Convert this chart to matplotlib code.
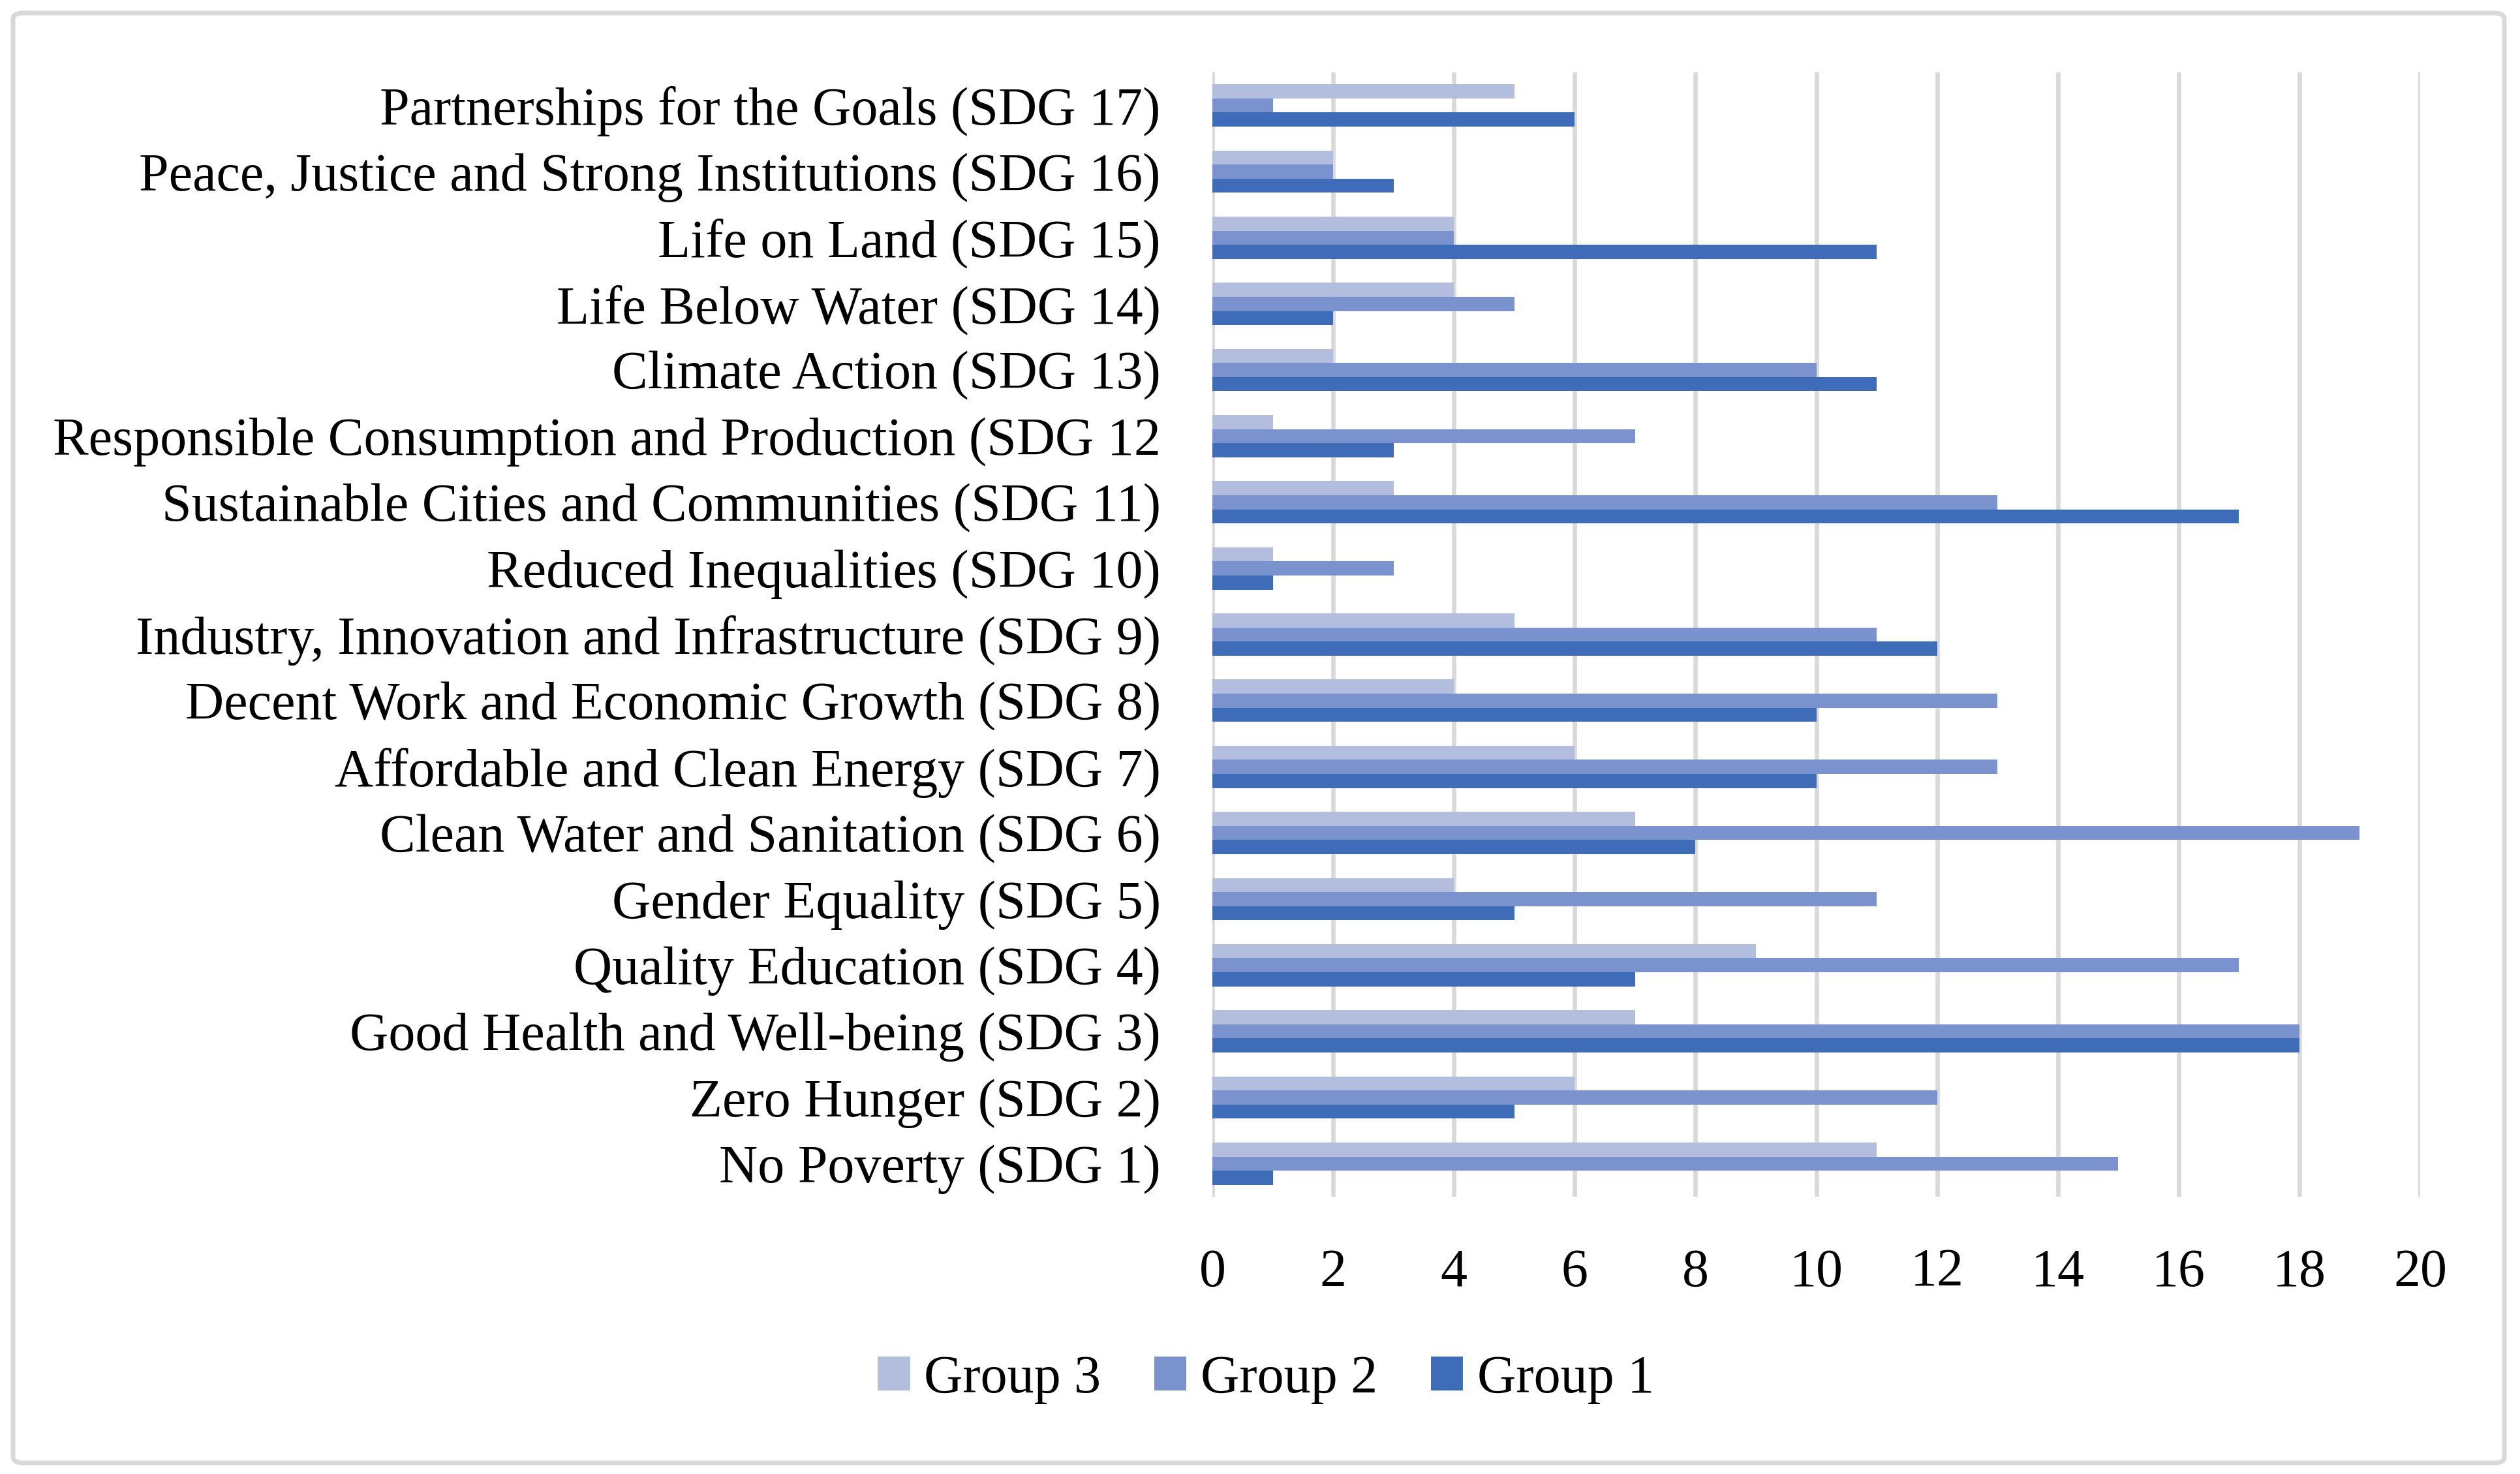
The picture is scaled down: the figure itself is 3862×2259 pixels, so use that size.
import numpy as np
import matplotlib
matplotlib.use("Agg")
import matplotlib.pyplot as plt
from matplotlib.patches import FancyBboxPatch

plt.rcParams['font.family'] = ['Liberation Serif', 'DejaVu Serif']

# categories from bottom (SDG 1) to top (SDG 17)
labels = [
    "No Poverty (SDG 1)",
    "Zero Hunger (SDG 2)",
    "Good Health and Well-being (SDG 3)",
    "Quality Education (SDG 4)",
    "Gender Equality (SDG 5)",
    "Clean Water and Sanitation (SDG 6)",
    "Affordable and Clean Energy (SDG 7)",
    "Decent Work and Economic Growth (SDG 8)",
    "Industry, Innovation and Infrastructure (SDG 9)",
    "Reduced Inequalities (SDG 10)",
    "Sustainable Cities and Communities (SDG 11)",
    "Responsible Consumption and Production (SDG 12",
    "Climate Action (SDG 13)",
    "Life Below Water (SDG 14)",
    "Life on Land (SDG 15)",
    "Peace, Justice and Strong Institutions (SDG 16)",
    "Partnerships for the Goals (SDG 17)",
]
group1 = [1, 5, 18, 7, 5, 8, 10, 10, 12, 1, 17, 3, 11, 2, 11, 3, 6]
group2 = [15, 12, 18, 17, 11, 19, 13, 13, 11, 3, 13, 7, 10, 5, 4, 2, 1]
group3 = [11, 6, 7, 9, 4, 7, 6, 4, 5, 1, 3, 1, 2, 4, 4, 2, 5]

c1, c2, c3 = "#3f6cb8", "#7a93ce", "#b3bede"
grid_c = "#d9d9d9"
fs = 19.7

W, H, dpi = 3862, 2259, 300
fig = plt.figure(figsize=(W / dpi, H / dpi), dpi=dpi)
ax = fig.add_axes([1858 / W, 1 - 1834 / H, (3709 - 1858) / W, (1834 - 111) / H])

y = np.arange(len(labels))
h = 0.213
b3 = ax.barh(y + h, group3, height=h, color=c3, label="Group 3", zorder=3)
b2 = ax.barh(y, group2, height=h, color=c2, label="Group 2", zorder=3)
b1 = ax.barh(y - h, group1, height=h, color=c1, label="Group 1", zorder=3)

ax.set_xlim(0, 20)
ax.set_ylim(-0.5, len(labels) - 0.5)
ax.set_xticks(np.arange(0, 21, 2))
ax.set_yticks(y)
ax.set_yticklabels(labels)
ax.xaxis.grid(True, color=grid_c, linewidth=1.6, zorder=0)
ax.set_axisbelow(True)
for s in ax.spines.values():
    s.set_visible(False)
ax.tick_params(axis='both', length=0, labelsize=fs, pad=19)

fig.legend(handles=[b3, b2, b1], loc='center', bbox_to_anchor=(1940 / W, 1 - 2114 / H),
           ncol=3, frameon=False, fontsize=fs, handlelength=0.6, handleheight=0.6,
           handletextpad=0.26, columnspacing=1.0)

# outer chart border
border = FancyBboxPatch((20 / W, 1 - 2242 / H), (3838 - 20) / W, (2242 - 20) / H,
                        boxstyle="round,pad=0,rounding_size=0.004",
                        transform=fig.transFigure, facecolor='none',
                        edgecolor=grid_c, linewidth=1.7)
fig.patches.append(border)

fig.savefig("out.png", dpi=dpi, facecolor='white')
